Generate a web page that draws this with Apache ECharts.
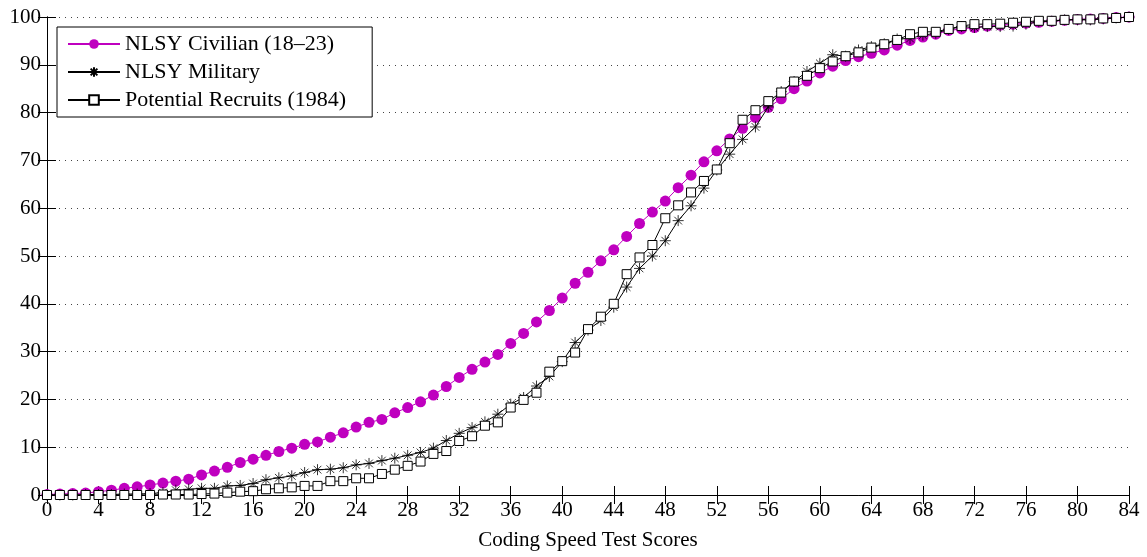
<!DOCTYPE html>
<html>
<head>
<meta charset="utf-8">
<script src="https://cdn.jsdelivr.net/npm/echarts@6/dist/echarts.min.js"></script>
<style>
  html, body { margin: 0; padding: 0; background: #fff; }
  #chart { width: 1147px; height: 557px; }
</style>
</head>
<body>
<div id="chart"></div>
<script>
// scores 0..84
const scores = Array.from({ length: 85 }, (_, i) => i);

const civilian = [
  0.1, 0.2, 0.3, 0.4, 0.7, 1.0, 1.4, 1.7, 2.1, 2.5,
  2.9, 3.3, 4.2, 5.0, 5.8, 6.8, 7.5, 8.3, 9.1, 9.8,
  10.6, 11.1, 12.1, 13.0, 14.2, 15.2, 15.8, 17.2, 18.3, 19.5,
  20.9, 22.7, 24.6, 26.3, 27.8, 29.4, 31.7, 33.8, 36.2, 38.6,
  41.2, 44.3, 46.6, 49.0, 51.3, 54.1, 56.8, 59.2, 61.5, 64.3,
  66.9, 69.7, 72.0, 74.5, 76.7, 79.0, 81.1, 82.9, 85.0, 86.6,
  88.3, 89.7, 90.9, 91.7, 92.4, 93.1, 94.1, 95.1, 95.8, 96.4,
  97.2, 97.5, 97.8, 98.1, 98.3, 98.5, 98.7, 98.9, 99.1, 99.3,
  99.5, 99.6, 99.7, 99.9, 100
];

const military = [
  0, 0, 0, 0.1, 0.1, 0.1, 0.2, 0.2, 0.3, 0.5,
  1.0, 1.2, 1.4, 1.4, 1.9, 2.0, 2.4, 3.2, 3.6, 4.0,
  4.7, 5.3, 5.4, 5.7, 6.3, 6.6, 7.2, 7.7, 8.3, 8.9,
  9.8, 11.4, 12.9, 14.1, 15.3, 16.9, 19.0, 20.4, 22.8, 24.8,
  27.9, 31.9, 34.5, 36.5, 39.3, 43.5, 47.4, 50.0, 53.2, 57.4,
  60.5, 64.2, 68.0, 71.3, 74.4, 77.0, 81.2, 84.4, 86.5, 88.6,
  90.3, 92.1, 91.8, 93.1, 93.8, 94.4, 95.4, 95.5, 96.2, 96.6,
  97.4, 98.0, 97.8, 98.0, 98.0, 98.1, 98.5, 99.0, 99.1, 99.4,
  99.4, 99.4, 99.6, 99.8, 100
];

const recruits = [
  0, 0, 0, 0, 0, 0, 0, 0, 0, 0.1,
  0.1, 0.1, 0.2, 0.3, 0.5, 0.7, 0.8, 1.2, 1.4, 1.6,
  1.9, 1.9, 2.9, 2.9, 3.5, 3.5, 4.4, 5.3, 6.1, 7.0,
  8.6, 9.2, 11.3, 12.3, 14.5, 15.2, 18.3, 19.9, 21.4, 25.8,
  28.0, 29.8, 34.7, 37.3, 40.0, 46.2, 49.7, 52.3, 57.9, 60.6,
  63.3, 65.7, 68.1, 73.6, 78.5, 80.5, 82.4, 84.2, 86.5, 87.7,
  89.3, 90.7, 91.8, 92.6, 93.6, 94.3, 95.2, 96.4, 96.9, 96.9,
  97.5, 98.1, 98.5, 98.5, 98.6, 98.8, 99.0, 99.2, 99.2, 99.4,
  99.5, 99.5, 99.7, 99.8, 100
];

const seriesNames = ['NLSY Civilian (18\u201323)', 'NLSY Military', 'Potential Recruits (1984)'];

const FONT = 'Liberation Serif';
const FS = 21;
const MAGENTA = '#bf00bf';
const asterisk = 'path://M0,5L10,5M5,0L5,10M1.5,1.5L8.5,8.5M1.5,8.5L8.5,1.5';

const pairs = (vals) => vals.map((v, i) => [scores[i], v]);

const chart = echarts.init(document.getElementById('chart'));

const tickStyle = { show: true, inside: true, length: 9, lineStyle: { color: '#000', width: 1 } };

chart.setOption({
  animation: false,
  textStyle: { fontFamily: FONT },
  grid: { left: 47, right: 18, top: 17, bottom: 62 },
  legend: {
    orient: 'vertical',
    left: 57,
    top: 27,
    backgroundColor: '#fff',
    borderColor: '#000',
    borderWidth: 1,
    padding: [6, 26, 6, 10],
    itemWidth: 52,
    itemHeight: 12,
    itemGap: 6,
    textStyle: { fontFamily: FONT, fontSize: FS + 1, color: '#000' },
    data: seriesNames
  },
  xAxis: [{
    type: 'value',
    min: 0, max: 84, interval: 4,
    name: 'Coding Speed Test Scores',
    nameLocation: 'middle',
    nameGap: 35,
    nameTextStyle: { fontFamily: FONT, fontSize: FS, color: '#000' },
    axisLine: { lineStyle: { color: '#000', width: 1 } },
    axisTick: tickStyle,
    axisLabel: { fontFamily: FONT, fontSize: FS, color: '#000', margin: 5 },
    splitLine: { show: false }
  }, {
    type: 'value', position: 'top',
    min: 0, max: 84, interval: 4,
    axisLine: { show: true, lineStyle: { color: '#000', width: 1 } },
    axisTick: tickStyle,
    axisLabel: { show: false },
    splitLine: { show: false }
  }],
  yAxis: [{
    type: 'value',
    min: 0, max: 100, interval: 10,
    axisLine: { show: true, lineStyle: { color: '#000', width: 1 } },
    axisTick: tickStyle,
    axisLabel: { fontFamily: FONT, fontSize: FS, color: '#000', margin: 6 },
    splitLine: { show: true, lineStyle: { color: '#444', width: 1, type: [1, 5] } }
  }, {
    type: 'value', position: 'right',
    min: 0, max: 100, interval: 10,
    axisLine: { show: true, lineStyle: { color: '#000', width: 1 } },
    axisTick: tickStyle,
    axisLabel: { show: false },
    splitLine: { show: false }
  }],
  series: [{
    name: seriesNames[0],
    type: 'line',
    data: pairs(civilian),
    symbol: 'circle',
    symbolSize: 11,
    lineStyle: { color: MAGENTA, width: 1 },
    itemStyle: { color: MAGENTA },
    z: 2
  }, {
    name: seriesNames[1],
    type: 'line',
    data: pairs(military),
    symbol: asterisk,
    symbolSize: 11,
    lineStyle: { color: '#000', width: 1 },
    itemStyle: { color: '#000', borderColor: '#000', borderWidth: 0.8 },
    z: 3
  }, {
    name: seriesNames[2],
    type: 'line',
    data: pairs(recruits),
    symbol: 'rect',
    symbolSize: 9,
    lineStyle: { color: '#000', width: 1 },
    itemStyle: { color: '#fff', borderColor: '#000', borderWidth: 1 },
    z: 4
  }]
});
</script>
</body>
</html>
